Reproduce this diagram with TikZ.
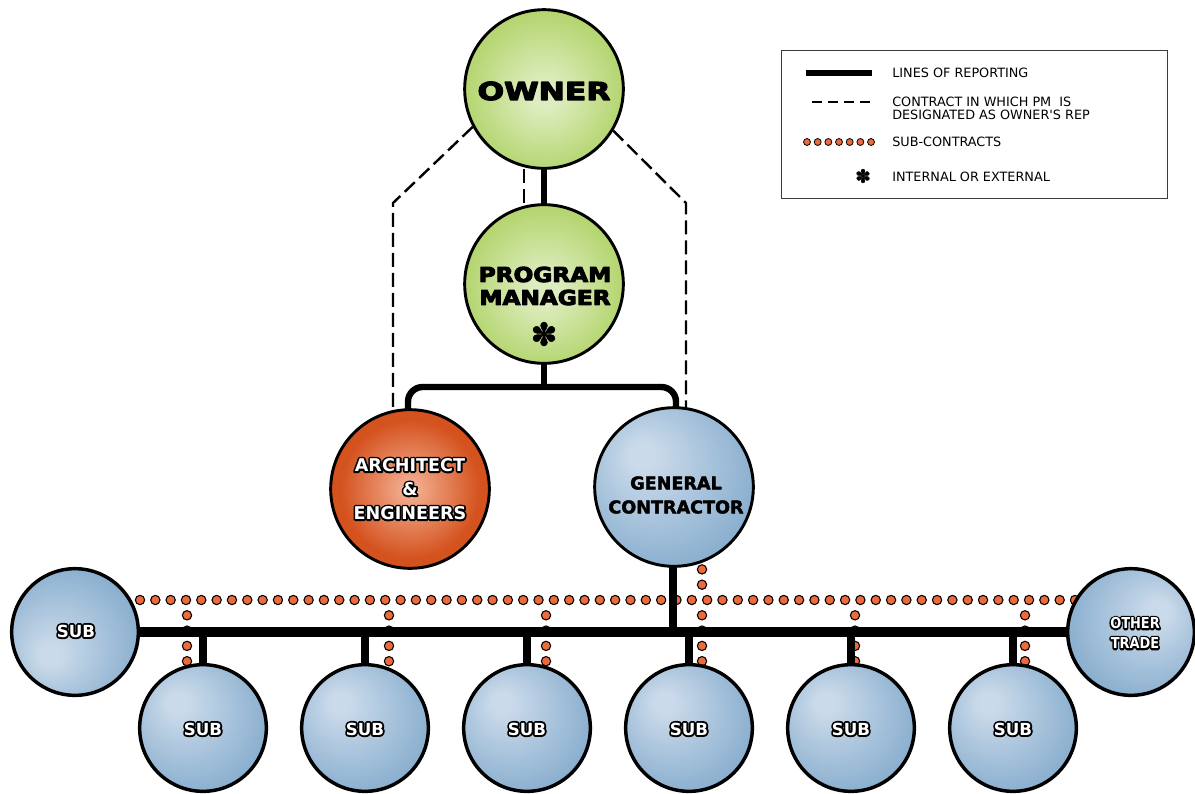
\documentclass[tikz,border=0pt]{standalone}
\usepackage{fontspec}
\setmainfont{DejaVu Sans}
\usepackage{graphicx}
\usetikzlibrary{calc}
\pgfdeclarelayer{bg}
\pgfsetlayers{bg,main}
\definecolor{grnO}{RGB}{176,211,104}
\definecolor{grnI}{RGB}{222,237,192}
\definecolor{aeO}{RGB}{212,82,30}
\definecolor{aeI}{RGB}{242,172,142}
\definecolor{bluO}{RGB}{134,172,205}
\definecolor{bluI}{RGB}{202,218,234}
\definecolor{dotc}{RGB}{236,106,60}
\definecolor{lgframe}{RGB}{60,60,60}
\pgfdeclareradialshading{grnsh}{\pgfpoint{0bp}{-2bp}}{color(0bp)=(grnI); color(4bp)=(grnI); color(27bp)=(grnO); color(50bp)=(grnO)}
\pgfdeclareradialshading{aesh}{\pgfpoint{0bp}{0bp}}{color(0bp)=(aeI); color(2bp)=(aeI); color(22bp)=(aeO); color(50bp)=(aeO)}
\pgfdeclareradialshading{bluUL}{\pgfpoint{-11bp}{11bp}}{color(0bp)=(bluI); color(4bp)=(bluI); color(32bp)=(bluO); color(50bp)=(bluO)}
\pgfdeclareradialshading{bluLL}{\pgfpoint{-11bp}{-10bp}}{color(0bp)=(bluI); color(4bp)=(bluI); color(32bp)=(bluO); color(50bp)=(bluO)}
\pgfdeclareradialshading{bluUR}{\pgfpoint{12bp}{9bp}}{color(0bp)=(bluI); color(4bp)=(bluI); color(32bp)=(bluO); color(50bp)=(bluO)}
% white text with a black outline: a stroked copy under the filled text
\newcommand\outl[2]{\leavevmode\rlap{\special{pdf:literal direct 1 Tr #1 w 0 0 0 RG 1 j}#2\special{pdf:literal direct 0 Tr}}#2}
% heavier text: fill and stroke in the current colour
\newcommand\heavy[2]{\special{pdf:literal direct 2 Tr #1 w 1 j}#2\special{pdf:literal direct 0 Tr}}
\newcommand\dotrow[5]{\foreach \di in {0,...,#5}{\path[dotm] ({#1+(#3-#1)/#5*\di},{#2+(#4-#2)/#5*\di}) circle[radius=3.5pt];}}
\begin{document}
\begin{tikzpicture}[x=0.75pt,y=-0.75pt,
  bigc/.style={circle,draw=black,line width=2.2pt,minimum size=119pt,inner sep=0pt,shade},
  subc/.style={circle,draw=black,line width=2.6pt,minimum size=95pt,inner sep=0pt,shade},
  repline/.style={line width=4.8pt},
  barline/.style={line width=6.8pt},
  stubline/.style={line width=6pt},
  dsh/.style={line width=1.8pt,dash pattern=on 10.5pt off 4.5pt},
  dotm/.style={fill=dotc,draw=black,line width=0.8pt},
  wlbl/.style={text=white,font=\bfseries\fontsize{12.5}{15}\selectfont,inner sep=0pt,align=center},
  lgtext/.style={font=\fontsize{9.6}{9.6}\selectfont,anchor=west,inner sep=0pt,align=left}
]
\useasboundingbox (0,0) rectangle (1195,793);

% circles
\node[bigc,shading=grnsh] (owner) at (544,89) {};
\node[bigc,shading=grnsh] (pm) at (544,284) {};
\node[bigc,shading=aesh] (ae) at (410,489) {};
\node[bigc,shading=bluUL] (gc) at (674,487) {};
\node[subc,shading=bluLL] (s0) at (75,632) {};
\node[subc,shading=bluUR] (ot) at (1131,632) {};
\foreach \i/\x in {1/203,2/365,3/527,4/689,5/851,6/1013}
  \node[subc,shading=bluUL] (s\i) at (\x,728) {};

% coordinates
\coordinate (lc) at (393,203);
\coordinate (rc) at (686,203);
\coordinate (bl) at (408,387);
\coordinate (br) at (676,387);

\begin{pgfonlayer}{bg}
  % dashed contract lines
  \draw[dsh] (owner.208) -- (lc) -- (lc |- ae.center);
  \draw[dsh] (owner.329) -- (rc) -- (rc |- gc.center);
  \draw[dsh] ($(owner.center)+(-20,0)$) -- ($(pm.center)+(-20,0)$);
  % sub-contract dots
  \dotrow{140}{600}{1075}{600}{61}
  \foreach \x in {187,389,546,702,855,1025}{\dotrow{\x}{615.3}{\x}{661.2}{3}}
  \dotrow{702}{569.4}{702}{584.7}{1}
  % reporting lines
  \draw[repline] (owner.center) -- (pm.center);
  \draw[repline] (pm.center) -- (pm.center |- bl);
  \draw[repline,rounded corners=11pt] (bl |- ae.center) -- (bl) -- (br) -- (br |- gc.center);
  \draw[stubline] ([xshift=-1]gc.center) -- ([xshift=-1]gc.center |- s0.center);
  \draw[barline] (s0.center) -- (ot.center);
  \foreach \i in {1,...,6}
    \draw[stubline] (s\i.center |- s0.center) -- (s\i.center);
\end{pgfonlayer}

% labels
\node[font=\bfseries\fontsize{18.5}{20}\selectfont,inner sep=0pt] (ownerT) at (544,91)
  {\scalebox{1.27}[1]{\heavy{0.8}{OWNER}}};
\node[font=\bfseries\fontsize{15.4}{17.25}\selectfont,align=center,inner sep=0pt] (pmT) at (545,286)
  {\scalebox{1.13}[1]{\heavy{0.7}{PROGRAM}}\\\scalebox{1.13}[1]{\heavy{0.7}{MANAGER}}};
\node[font=\fontsize{24}{24}\selectfont,inner sep=0pt] (pmS) at (544,334) {\heavy{0.3}{✽}};
\node[wlbl,font=\bfseries\fontsize{13.2}{18}\selectfont] (aeT) at (410,489)
  {\outl{2.6}{ARCHITECT}\\\outl{2.6}{\&}\\\outl{2.6}{ENGINEERS}};
\node[font=\bfseries\fontsize{13.2}{18}\selectfont,align=center,inner sep=0pt] (gcT) at (676,495)
  {\heavy{0.3}{GENERAL}\\\heavy{0.3}{CONTRACTOR}};
\node[wlbl] (s0T) at (76,631) {\outl{2.8}{SUB}};
\foreach \i/\x in {1/203,2/365,3/527,4/689,5/851,6/1013}
  \node[wlbl] (s\i T) at (\x,729) {\outl{2.8}{SUB}};
\node[wlbl,font=\bfseries\fontsize{11.3}{15}\selectfont] (otT) at (1135,633)
  {\scalebox{0.86}[1]{\outl{2.6}{OTHER}}\\\scalebox{0.86}[1]{\outl{2.6}{TRADE}}};

% legend
\node[draw=lgframe,line width=0.9pt,minimum width=289.5pt,minimum height=111pt,anchor=north west,inner sep=0pt] (legend) at (781,50) {};
\coordinate (l1a) at (806,73); \coordinate (l1b) at (872,73);
\draw[line width=4.5pt] (l1a) -- (l1b);
\coordinate (l2a) at (812,102); \coordinate (l2b) at (870,102);
\draw[line width=1.7pt,dash pattern=on 7.5pt off 4.5pt] (l2a) -- (l2b);
\foreach \k in {0,...,6} \path[dotm,line width=0.6pt] ({807+\k*10.67},142) circle[radius=2.6pt];
\node[font=\fontsize{14}{14}\selectfont,inner sep=0pt] (lgS) at (863,176) {\heavy{0.2}{✽}};
\node[lgtext] (lgT1) at (892,73) {LINES OF REPORTING};
\node[lgtext] (lgT2) at (892,108) {CONTRACT IN WHICH PM\ \ IS\\DESIGNATED AS OWNER\textquotesingle S REP};
\node[lgtext] (lgT3) at (892,142) {SUB-CONTRACTS};
\node[lgtext] (lgT4) at (892,177) {INTERNAL OR EXTERNAL};
\end{tikzpicture}
\end{document}
